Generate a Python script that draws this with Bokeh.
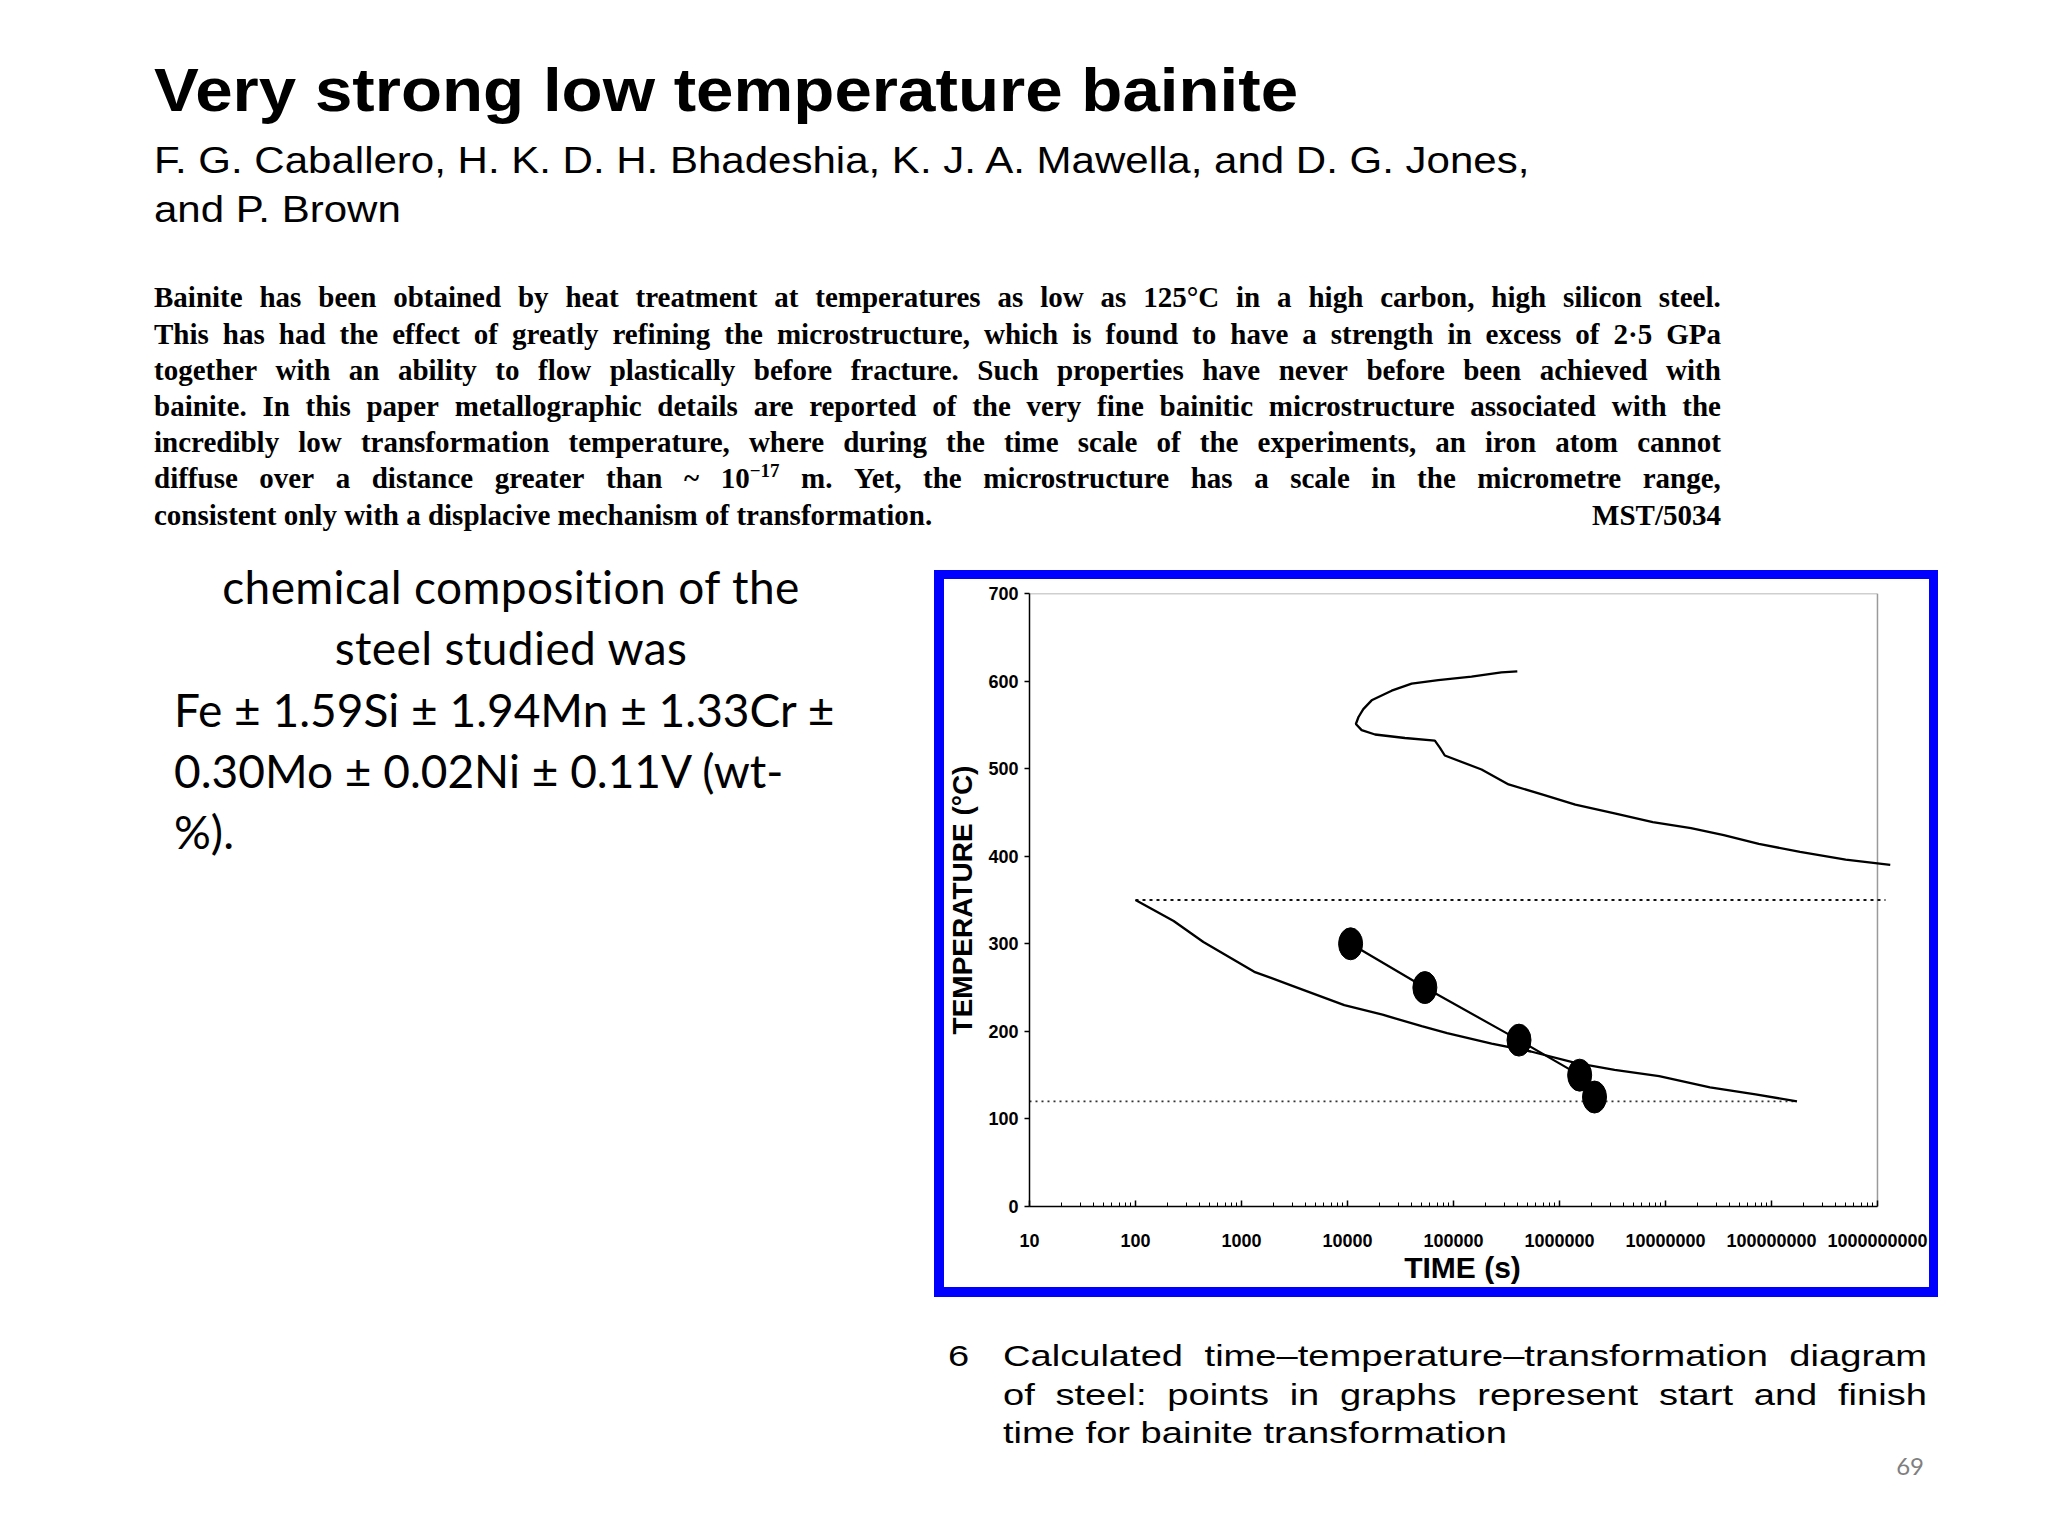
from bokeh.plotting import figure
from bokeh.models import Div, FixedTicker, Range1d
from bokeh.layouts import column, row
from bokeh.embed import file_html
from bokeh.resources import INLINE

# ---------------- data ----------------
# upper C-curve (time in s, temperature in degC)
upper_time = [400000, 283000, 148000, 71800, 40300, 26100, 16900, 14100, 12700, 12000,
              13600, 18200, 34800, 66700, 74300, 82800, 184000, 331000, 708000, 1410000,
              3310000, 7590000, 17400000, 35500000, 75900000, 186000000, 501000000, 1320000000]
upper_temp = [611, 610, 605, 601, 597, 589, 578, 568, 559, 551,
              544, 539, 535, 532, 524, 515, 499, 482, 470, 459,
              449, 439, 432, 424, 414, 405, 396, 390]
# lower (bainite) curve
lower_time = [100, 229, 437, 1320, 3020, 9330, 21400, 50100, 87100, 229000, 537000,
              1410000, 3310000, 8710000, 26300000, 70800000, 174000000]
lower_temp = [350, 326, 302, 268, 252, 230, 219, 206, 198, 186, 177,
              164, 156, 149, 136, 128, 120]
# experimental points
point_time = [10700, 53700, 415000, 1550000, 2140000]
point_temp = [300, 250, 190, 150, 125]
# dotted horizontal lines
bs_time = [100, 1190000000]
bs_temp = [350, 350]
ms_time = [10, 174000000]
ms_temp = [120, 120]

x_ticks = [10, 100, 1000, 10000, 100000, 1000000, 10000000, 100000000, 1000000000]
x_tick_labels = ["10", "100", "1000", "10000", "100000", "1000000", "10000000",
                 "100000000", "1000000000"]
y_ticks = [0, 100, 200, 300, 400, 500, 600, 700]
y_tick_labels = ["0", "100", "200", "300", "400", "500", "600", "700"]
x_label = "TIME (s)"
y_label = "TEMPERATURE (°C)"

title_text = "Very strong low temperature bainite"
author_lines = ["F. G. Caballero, H. K. D. H. Bhadeshia, K. J. A. Mawella, and D. G. Jones,",
                "and P. Brown"]
abstract_lines = [
    "Bainite has been obtained by heat treatment at temperatures as low as 125°C in a high carbon, high silicon steel.",
    "This has had the effect of greatly refining the microstructure, which is found to have a strength in excess of 2·5 GPa",
    "together with an ability to flow plastically before fracture. Such properties have never before been achieved with",
    "bainite. In this paper metallographic details are reported of the very fine bainitic microstructure associated with the",
    "incredibly low transformation temperature, where during the time scale of the experiments, an iron atom cannot",
    "diffuse over a distance greater than ~ 10@SUP m. Yet, the microstructure has a scale in the micrometre range,",
]
abstract_last = "consistent only with a displacive mechanism of transformation."
abstract_code = "MST/5034"
comp_center_lines = ["chemical composition of the", "steel studied was"]
comp_left_lines = ["Fe ± 1.59Si ± 1.94Mn ± 1.33Cr ±", "0.30Mo ± 0.02Ni ± 0.11V (wt-", "%)."]
caption_number = "6"
caption_lines = ["Calculated time\u2013temperature\u2013transformation diagram",
                 "of steel: points in graphs represent start and finish",
                 "time for bainite transformation"]
page_number = "69"

BLUE = "#0000ff"

# ---------------- chart ----------------
p = figure(width=985, height=708, x_axis_type="log",
           x_range=Range1d(10, 10 ** 9.17), y_range=Range1d(0, 700),
           output_backend="svg", toolbar_location=None,
           min_border_left=83, min_border_right=34, min_border_top=14, min_border_bottom=81)
p.margin = 0
p.grid.visible = False
p.outline_line_color = None
p.background_fill_color = "white"
p.border_fill_color = "white"

# frame lines (top and right) in light grey
p.line([10, 1e9], [700, 700], line_color="#a0a0a0", line_width=1.5)
p.line([1e9, 1e9], [0, 700], line_color="#9a9a9a", line_width=1.5)

p.line(bs_time, bs_temp, line_color="#111111", line_width=2, line_dash="3 4")
p.line(ms_time, ms_temp, line_color="#333333", line_width=1.6, line_dash="2 4")
p.line(upper_time, upper_temp, line_color="black", line_width=2.3)
p.line(lower_time, lower_temp, line_color="black", line_width=2.3)
p.line(point_time, point_temp, line_color="black", line_width=2.2)
p.ellipse(x=point_time, y=point_temp, width=24, height=32,
          width_units="screen", height_units="screen",
          fill_color="black", line_color="black")

xa = p.xaxis[0]
xa.ticker = FixedTicker(ticks=x_ticks,
                        minor_ticks=[m * t for t in x_ticks[:-1] for m in range(2, 10)])
xa.major_label_overrides = {t: lab for t, lab in zip(x_ticks, x_tick_labels)}
xa.bounds = (10, 1e9)
xa.major_tick_in = 6
xa.major_tick_out = 0
xa.minor_tick_in = 4
xa.minor_tick_out = 0
xa.major_label_standoff = 27
xa.axis_label = x_label
xa.axis_label_standoff = 1

ya = p.yaxis[0]
ya.ticker = FixedTicker(ticks=y_ticks)
ya.major_label_overrides = {t: lab for t, lab in zip(y_ticks, y_tick_labels)}
ya.major_tick_in = 0
ya.major_tick_out = 5
ya.minor_tick_line_color = None
ya.major_label_standoff = 6
ya.axis_label = y_label
ya.axis_label_standoff = 7

for ax in (xa, ya):
    ax.axis_line_color = "black"
    ax.axis_line_width = 1.5
    ax.major_tick_line_color = "black"
    ax.major_tick_line_width = 1.5
    ax.minor_tick_line_color = "black" if ax is xa else None
    ax.major_label_text_font = "Liberation Sans"
    ax.major_label_text_font_style = "bold"
    ax.major_label_text_font_size = "18px"
    ax.major_label_text_color = "black"
    ax.axis_label_text_font = "Liberation Sans"
    ax.axis_label_text_font_style = "bold"
    ax.axis_label_text_color = "black"
xa.axis_label_text_font_size = "30px"
ya.axis_label_text_font_size = "28px"

# ---------------- text helpers ----------------
def abs_div(left, top, content, font, extra=""):
    return (f'<div style="position:absolute;left:{left}px;top:{top}px;font:{font};'
            f'line-height:1;white-space:nowrap;{extra}">{content}</div>')


def just_div(left, top, width, words, font, extra=""):
    spans = "".join(f"<span>{w}</span>" for w in words)
    return (f'<div style="position:absolute;left:{left}px;top:{top}px;width:{width}px;'
            f'display:flex;justify-content:space-between;font:{font};line-height:1;'
            f'white-space:nowrap;{extra}">{spans}</div>')


SCALE = "transform-origin:0 0;transform:scaleX({});"

# ---- top block (page y 8..548) ----
top_parts = []
top_parts.append(abs_div(146, 52, title_text, "bold 61px 'Liberation Sans'", SCALE.format(1.103)))
top_parts.append(abs_div(146, 134.5, author_lines[0], "36px 'Liberation Sans'", SCALE.format(1.167)))
top_parts.append(abs_div(146, 183.5, author_lines[1], "36px 'Liberation Sans'", SCALE.format(1.167)))
abs_font = "bold 29px 'Liberation Serif'"
sup_html = "10<sup style=\"font-size:19px;vertical-align:baseline;position:relative;top:-11px\">\u221217</sup>"
abs_tops = [275.4, 311.6, 347.8, 384.0, 420.2, 456.4]
for txt, tp in zip(abstract_lines, abs_tops):
    words = [sup_html if w == "10@SUP" else w for w in txt.split(" ")]
    top_parts.append(just_div(146, tp, 1567, words, abs_font))
top_parts.append(just_div(146, 492.6, 1567, [abstract_last, abstract_code], abs_font))
top_html = ('<div style="position:relative;width:2032px;height:540px;color:#000;">'
            + "".join(top_parts) + "</div>")
top_div = Div(text=top_html, width=2032, height=540, margin=0)

# ---- left block (page x 8.., y 548..1297) ----
comp_font = "46px 'Lato'"
left_parts = []
for txt, tp in zip(comp_center_lines, [16.2, 77.2]):
    left_parts.append(abs_div(0, tp, txt, comp_font,
                              "width:1006px;text-align:center;letter-spacing:0.4px;"))
for txt, tp in zip(comp_left_lines, [139.2, 200.2, 261.2]):
    left_parts.append(abs_div(166, tp, txt, comp_font))
left_html = ('<div style="position:relative;width:926px;height:749px;color:#000;">'
             + "".join(left_parts) + "</div>")
left_div = Div(text=left_html, width=926, height=749, margin=0)

# ---- blue-framed chart ----
def blue(w, h):
    return Div(text="", width=w, height=h, margin=0, styles={"background-color": BLUE})

frame = column(
    blue(1004, 9),
    row(blue(10, 708), p, blue(9, 708), spacing=0, margin=0),
    blue(1004, 10),
    spacing=0, margin=0,
)
right_col = column(Div(text="", width=1004, height=22, margin=0), frame, spacing=0, margin=0)
middle = row(left_div, right_col, spacing=0, margin=0)

# ---- bottom block (page y 1297..1520) ----
cap_font = "30px 'Liberation Sans'"
CAP_SX = 1.27
bot_parts = []
bot_parts.append(abs_div(940, 43.6, caption_number, cap_font, SCALE.format(CAP_SX)))
bot_parts.append(just_div(995, 43.6, round(924 / CAP_SX, 1), caption_lines[0].split(" "), cap_font, SCALE.format(CAP_SX)))
bot_parts.append(just_div(995, 82.6, round(924 / CAP_SX, 1), caption_lines[1].split(" "), cap_font, SCALE.format(CAP_SX)))
bot_parts.append(abs_div(995, 120.6, caption_lines[2], cap_font, SCALE.format(CAP_SX)))
bot_parts.append(abs_div(1866, 156.7, page_number, "24px 'Lato'",
                         "width:50px;text-align:right;color:#7f7f7f;"))
bot_html = ('<div style="position:relative;width:2032px;height:223px;color:#000;">'
            + "".join(bot_parts) + "</div>")
bottom_div = Div(text=bot_html, width=2032, height=223, margin=0)

page = column(top_div, middle, bottom_div, spacing=0, margin=(8, 0, 0, 8))

open("out.html", "w").write(file_html(page, INLINE, title="Very strong low temperature bainite"))
